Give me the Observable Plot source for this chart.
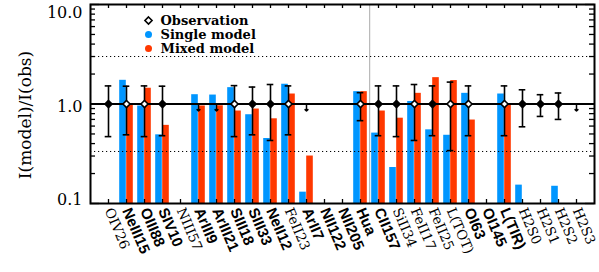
<!DOCTYPE html>
<html>
<head>
<meta charset="utf-8">
<script src="https://cdn.jsdelivr.net/npm/d3@7"></script>
<script src="https://cdn.jsdelivr.net/npm/@observablehq/plot@0.6"></script>
<style>
  html, body { margin: 0; padding: 0; background: white; }
  #chart svg { display: block; }
</style>
</head>
<body>
<div id="chart"></div>
<script>
// ---- data ----
const cats = ["OIV26","NeIII15","OIII88","SIV10","NIII57","ArIII9","ArIII21","SIII18","SIII33","NeII12",
  "FeII23","ArII7","NII122","NII205","Hua","CII157","SiII34","FeII17","FeII25","L(TOT)",
  "OI63","OI145","L(TIR)","H2S0","H2S1","H2S2","H2S3"];
const labelBold = [false,true,true,true,false,true,true,true,true,true,
  false,true,true,true,true,true,false,false,false,false,
  true,true,true,false,false,false,false];
const singleModel = [null,1.73,0.955,0.49,null,1.24,1.23,1.46,0.78,0.45,
  1.58,0.13,null,null,1.33,0.51,0.23,1.06,0.55,0.485,
  1.28,null,1.26,0.153,null,0.149,null];
const mixedModel = [null,1.01,1.44,0.61,null,0.955,0.96,0.85,0.89,0.71,
  1.26,0.30,null,null,1.33,0.85,0.72,1.28,1.84,1.72,
  0.69,null,1.0,null,null,null,null];
const obsValue = 1.0;
// observation kind: "filled", "open", "limit" (upper limit arrow) or "none"
const obsKind = ["filled","open","open","filled","none","limit","limit","open","filled","filled",
  "open","limit","none","none","open","filled","filled","open","filled","open",
  "open","none","open","filled","filled","filled","limit"];
const obsHi = [1.52,1.51,1.52,1.51,null,null,null,1.53,1.48,1.57,
  1.52,null,null,null,1.30,1.52,1.52,1.57,1.52,1.66,
  1.52,null,1.52,1.39,1.24,1.29,null];
const obsLo = [0.47,0.49,0.47,0.48,null,null,null,0.47,0.49,0.43,
  0.49,null,null,null,0.68,0.48,0.47,0.43,0.48,0.34,
  0.48,null,0.48,0.59,0.75,0.70,null];
const yMajor = [0.1, 1, 10];
const yMinor = [0.2,0.3,0.4,0.5,0.6,0.7,0.8,0.9,2,3,4,5,6,7,8,9];
const yLimits = [3, 1/3];
const dividerAfter = "Hua";
const legendItems = ["Observation","Single model","Mixed model"];

const blue = "#0096ff", red = "#ff3800";

const rows = cats.map((c, i) => ({
  cat: c, bold: labelBold[i], single: singleModel[i], mixed: mixedModel[i],
  kind: obsKind[i], hi: obsHi[i], lo: obsLo[i], obs: obsValue
}));
const withObs = rows.filter(d => d.kind === "filled" || d.kind === "open");
const limits = rows.filter(d => d.kind === "limit");

const W = 599, H = 272, mL = 90, mR = 5, mT = 4, mB = 69;
const fw = W - mL - mR, fh = H - mT - mB;
const serif = "DejaVu Serif";

const chart = Plot.plot({
  width: W, height: H,
  marginLeft: mL, marginRight: mR, marginTop: mT, marginBottom: mB,
  style: {background: "white", overflow: "visible"},
  x: {type: "band", domain: cats, paddingInner: 0, paddingOuter: 0.21, axis: null},
  y: {type: "log", domain: [0.1, 10], axis: null},
  marks: [
    Plot.ruleX([dividerAfter], {x: d => d, dx: 9.2, stroke: "#aaaaaa", strokeWidth: 1}),
    Plot.barY(rows, {x: "cat", y1: 0.1, y2: "single", fill: blue, insetLeft: 2.2, insetRight: 9.2}),
    Plot.barY(rows, {x: "cat", y1: 0.1, y2: "mixed", fill: red, insetLeft: 9.2, insetRight: 2.2}),
    Plot.ruleY(yLimits, {stroke: "black", strokeWidth: 1, strokeDasharray: "1.2,2.8"}),
    Plot.ruleY([obsValue], {stroke: "black", strokeWidth: 1.8}),
    Plot.ruleX(withObs, {x: "cat", y1: "lo", y2: "hi", stroke: "black", strokeWidth: 1.6}),
    Plot.tickY(withObs, {x: "cat", y: "hi", stroke: "black", strokeWidth: 1.6, insetLeft: 5.7, insetRight: 5.7}),
    Plot.tickY(withObs, {x: "cat", y: "lo", stroke: "black", strokeWidth: 1.6, insetLeft: 5.7, insetRight: 5.7}),
    Plot.dot(withObs.filter(d => d.kind === "filled"), {x: "cat", y: "obs", symbol: "diamond2", r: 3.2, stroke: "black", fill: "black", strokeWidth: 1.6}),
    Plot.dot(withObs.filter(d => d.kind === "open"), {x: "cat", y: "obs", symbol: "diamond2", r: 3.2, stroke: "black", fill: "white", strokeWidth: 1.6}),
    Plot.vector(limits, {x: "cat", y: "obs", length: 7, rotate: 180, anchor: "start", stroke: "black", strokeWidth: 1.5}),
    // frame and ticks
    Plot.frame({stroke: "black", strokeWidth: 2}),
    Plot.ruleX(cats, {x: d => d, insetTop: fh - 4, stroke: "black", strokeWidth: 1.3}),
    Plot.ruleX(cats, {x: d => d, insetBottom: fh - 4, stroke: "black", strokeWidth: 1.3}),
    Plot.ruleY(yMajor, {y: d => d, insetRight: fw - 9, stroke: "black", strokeWidth: 1.3}),
    Plot.ruleY(yMajor, {y: d => d, insetLeft: fw - 9, stroke: "black", strokeWidth: 1.3}),
    Plot.ruleY(yMinor, {y: d => d, insetRight: fw - 5, stroke: "black", strokeWidth: 1.3}),
    Plot.ruleY(yMinor, {y: d => d, insetLeft: fw - 5, stroke: "black", strokeWidth: 1.3}),
    // y tick labels
    Plot.text([10], {y: d => d, text: d => d3.format(".1f")(d), frameAnchor: "left", textAnchor: "end", dx: -8, dy: 8, fontFamily: serif, fontSize: 16, fill: "black"}),
    Plot.text([1], {y: d => d, text: d => d3.format(".1f")(d), frameAnchor: "left", textAnchor: "end", dx: -8, dy: 3, fontFamily: serif, fontSize: 16, fill: "black"}),
    Plot.text([0.1], {y: d => d, text: d => d3.format(".1f")(d), frameAnchor: "left", textAnchor: "end", dx: -8, dy: -4, fontFamily: serif, fontSize: 16, fill: "black"}),
    Plot.text(["I(model)/I(obs)"], {text: d => d, frameAnchor: "left", textAnchor: "middle", rotate: -90, dx: -65, dy: 11, fontFamily: serif, fontSize: 17, letterSpacing: 3, fill: "black"}),
    // x tick labels
    Plot.text(rows.filter(d => d.bold), {x: "cat", text: "cat", frameAnchor: "bottom", rotate: 67, textAnchor: "start", lineAnchor: "middle", dy: 5, fontFamily: "Liberation Sans", fontWeight: "bold", fontSize: 15, fill: "black"}),
    Plot.text(rows.filter(d => !d.bold), {x: "cat", text: "cat", frameAnchor: "bottom", rotate: 67, textAnchor: "start", lineAnchor: "middle", dy: 5, fontFamily: serif, fontSize: 13.5, fill: "black"}),
    // legend
    Plot.dot([legendItems[0]], {frameAnchor: "top-left", dx: 58, dy: 16, symbol: "diamond2", r: 3.2, stroke: "black", fill: "white", strokeWidth: 1.6}),
    Plot.dot([legendItems[1]], {frameAnchor: "top-left", dx: 58, dy: 30, r: 3.5, fill: blue}),
    Plot.dot([legendItems[2]], {frameAnchor: "top-left", dx: 58, dy: 44, r: 3.5, fill: red}),
    Plot.text([legendItems[0]], {text: d => d, frameAnchor: "top-left", dx: 70, dy: 16, textAnchor: "start", lineAnchor: "middle", fontFamily: serif, fontWeight: "bold", fontSize: 13, letterSpacing: 0.6, fill: "black"}),
    Plot.text([legendItems[1]], {text: d => d, frameAnchor: "top-left", dx: 70, dy: 30, textAnchor: "start", lineAnchor: "middle", fontFamily: serif, fontWeight: "bold", fontSize: 13, letterSpacing: 0.6, fill: "black"}),
    Plot.text([legendItems[2]], {text: d => d, frameAnchor: "top-left", dx: 70, dy: 44, textAnchor: "start", lineAnchor: "middle", fontFamily: serif, fontWeight: "bold", fontSize: 13, letterSpacing: 0.6, fill: "black"})
  ]
});
document.getElementById("chart").append(chart);
</script>
</body>
</html>
